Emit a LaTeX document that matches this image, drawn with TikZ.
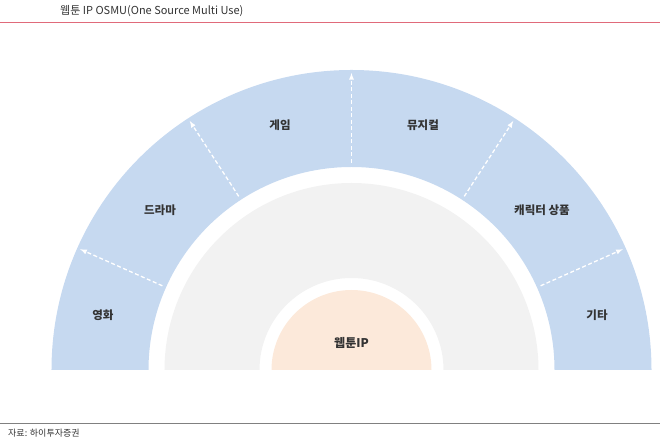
\documentclass[tikz,border=0pt]{standalone}
\usepackage{fontspec}
\setmainfont{Noto Sans CJK KR}
\definecolor{ringblue}{HTML}{C6D9F0}
\definecolor{ringgray}{HTML}{F2F2F2}
\definecolor{corepeach}{HTML}{FCE9DA}
\definecolor{rulered}{HTML}{E06A7A}
\definecolor{labeltext}{HTML}{333333}

\begin{document}
\begin{tikzpicture}[x=1pt,y=1pt]
      \tikzstyle{usebox}=[font=\fontsize{11.5}{13}\selectfont\bfseries,text=labeltext,inner sep=1pt]
      \tikzstyle{spread}=[white,line width=1.3pt,dash pattern=on 4pt off 2.5pt,-latex]
      \useasboundingbox (-351.5,-73) rectangle (308.5,370);
      % header and footer
      \node (title) [anchor=west,font=\fontsize{11}{13}\selectfont,text=labeltext,inner sep=0pt] at (-291.5,359) {웹툰 IP OSMU(One Source Multi Use)};
      \draw[rulered,line width=0.9pt] (-351.5,348) -- (308.5,348);
      \draw[gray,line width=0.6pt] (-351.5,-53) -- (308.5,-53);
      \node (source) [anchor=west,font=\fontsize{9}{11}\selectfont,text=labeltext,inner sep=0pt] at (-343.5,-63) {자료: 하이투자증권};
      % rings
      \fill[ringblue] (0:300pt) arc[start angle=0,end angle=180,radius=300pt] -- (180:203pt) arc[start angle=180,end angle=0,radius=203pt] -- cycle;
      \fill[ringgray] (0:187pt) arc[start angle=0,end angle=180,radius=187pt] -- (180:92pt) arc[start angle=180,end angle=0,radius=92pt] -- cycle;
      \fill[corepeach] (0:80pt) arc[start angle=0,end angle=180,radius=80pt] -- cycle;
      \node (core) [usebox,font=\fontsize{12}{14}\selectfont\bfseries] at (0,27) {웹툰IP};
      % uses
      \node (movie) [usebox] at (-248.5,55) {영화};
      \node (drama) [usebox] at (-191.5,160) {드라마};
      \node (game) [usebox] at (-71.5,245) {게임};
      \node (musical) [usebox] at (71.5,245) {뮤지컬};
      \node (goods) [usebox] at (190.5,160) {캐릭터 상품};
      \node (etc) [usebox] at (245.5,55) {기타};
      % arrows
      \coordinate (s1) at (156:207pt); \coordinate (e1) at (156:297pt);
      \coordinate (s2) at (123:207pt); \coordinate (e2) at (123:297pt);
      \coordinate (s3) at (90:207pt);  \coordinate (e3) at (90:297pt);
      \coordinate (s4) at (57:207pt);  \coordinate (e4) at (57:297pt);
      \coordinate (s5) at (24:207pt);  \coordinate (e5) at (24:297pt);
      \draw[spread] (s1) -- (e1);
      \draw[spread] (s2) -- (e2);
      \draw[spread] (s3) -- (e3);
      \draw[spread] (s4) -- (e4);
      \draw[spread] (s5) -- (e5);
\end{tikzpicture}
\end{document}
